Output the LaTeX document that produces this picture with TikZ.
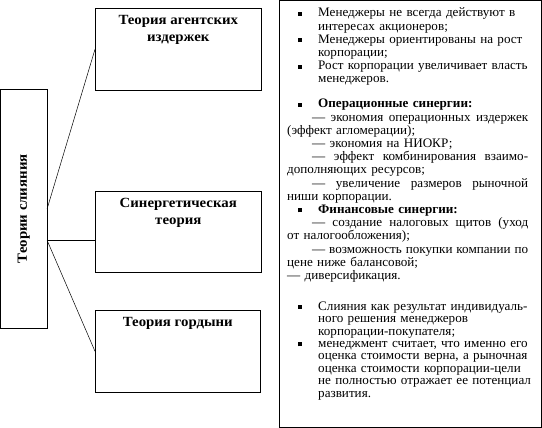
\documentclass[tikz,border=0pt]{standalone}
\usepackage{fontspec}
\usepackage{graphicx}
\setmainfont[FakeStretch=1.06]{Liberation Serif}
\newfontfamily\notesfont[FakeStretch=1.01]{Liberation Serif}
\usetikzlibrary{positioning}

% one printed line of the notes column each
\newcommand\sqbullet{\rule[0.2ex]{4pt}{4pt}}
\newcommand\bline[1]{\hbox{\hskip11pt\sqbullet\hskip16pt #1}}
\newcommand\iline[1]{\hbox{\hskip31pt #1}}
\newcommand\jline[2][0pt]{\hbox to 241pt{\spaceskip=.25em plus 1em\relax\hskip#1 #2}}

\begin{document}
\begin{tikzpicture}[
    x=1pt, y=-1pt,
    box/.style={draw, line width=0.6pt, inner sep=0pt, anchor=north west},
    title/.style={font=\fontsize{14}{17}\selectfont\bfseries, align=center, inner sep=0pt},
    notes/.style={font=\notesfont\fontsize{13}{13.2}\selectfont, text width=241pt,
      anchor=base west, inner sep=0pt},
    link/.style={draw, line width=0.5pt}
]
\useasboundingbox (0,0) rectangle (542,428);
% ---------------- LEFT: root and theories ----------------
\node[box, minimum width=46pt, minimum height=239pt] (mergers) at (0.5,89)
    {\rotatebox{90}{\fontsize{14}{16}\selectfont\bfseries Теории слияния}};
\node[box, minimum width=166pt, minimum height=82pt] (agent) at (95,8) {};
\node[box, minimum width=166pt, minimum height=81pt] (synergy) at (95,191) {};
\node[box, minimum width=165pt, minimum height=82pt] (pride) at (95,310) {};
\node[title, below=7pt of agent.north] (agenttitle) {Теория агентских\\издержек};
\node[title, below=7pt of synergy.north] (synergytitle) {Синергетическая\\теория};
\node[title, below=7pt of pride.north] (pridetitle) {Теория гордыни};
% connectors
\coordinate (hub) at ([yshift=-31.5pt]mergers.east);
\draw[link] (mergers.east) -- (agent.west);
\draw[link] (hub) -- (hub -| synergy.west);
\draw[link] (hub) -- (pride.west);
% ---------------- RIGHT: notes column ----------------
\node[box, minimum width=262pt, minimum height=426pt] (notes) at (278.5,0.5) {};
\node[notes] (agentnotes) at (287,17) {%
  \bline{Менеджеры не всегда действуют в}
  \iline{интересах акционеров;}
  \bline{Менеджеры ориентированы на рост}
  \iline{корпорации;}
  \bline{Рост корпорации увеличивает власть}
  \iline{менеджеров.}};
\node[notes] (synergynotes) at (287,108) {%
  \bline{\textbf{Операционные синергии:}}
  \jline[25pt]{— экономия операционных издержек}
  \hbox{(эффект агломерации);}
  \hbox{\hskip25pt — экономия на НИОКР;}
  \jline[25pt]{— эффект комбинирования взаимо-}
  \hbox{дополняющих ресурсов;}
  \jline[25pt]{— увеличение размеров рыночной}
  \hbox{ниши корпорации.}
  \bline{\textbf{Финансовые синергии:}}
  \jline[25pt]{— создание налоговых щитов (уход}
  \hbox{от налогообложения);}
  \jline[25pt]{— возможность покупки компании по}
  \hbox{цене ниже балансовой;}
  \hbox{— диверсификация.}};
\node[notes, font=\notesfont\fontsize{13}{12.5}\selectfont] (pridenotes) at (287,310) {%
  \bline{Слияния как результат индивидуаль-}
  \iline{ного решения менеджеров}
  \iline{корпорации-покупателя;}
  \bline{менеджмент считает, что именно его}
  \iline{оценка стоимости верна, а рыночная}
  \iline{оценка стоимости корпорации-цели}
  \iline{не полностью отражает ее потенциал}
  \iline{развития.}};
\end{tikzpicture}
\end{document}
